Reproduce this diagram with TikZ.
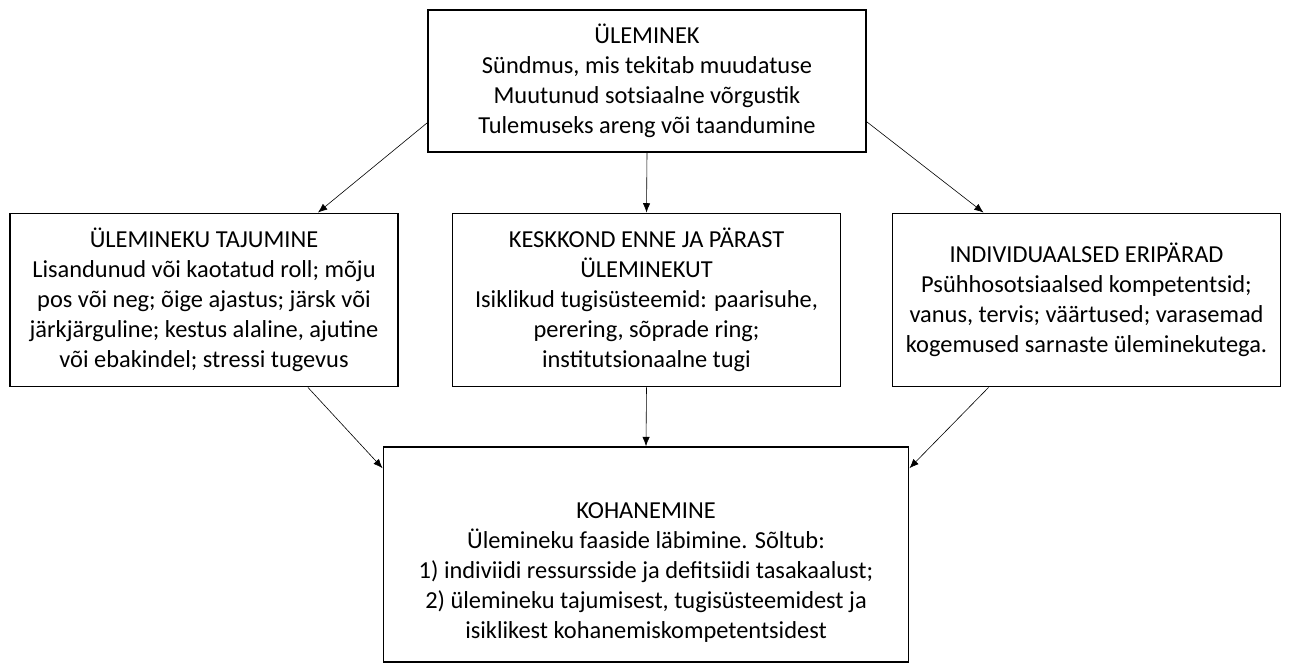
\documentclass[tikz,border=0pt]{standalone}
\usepackage{fontspec}
\setmainfont{Carlito}
\usetikzlibrary{arrows.meta,positioning}

\begin{document}
\begin{tikzpicture}[x=0.75pt,y=-0.75pt,
  box/.style={draw,rectangle,line width=1.4pt,align=center,inner sep=0pt,
    font=\fontsize{18.3}{22.5}\selectfont},
  midbox/.style={box,minimum width=291pt,minimum height=129.75pt},
  conn/.style={-{Latex[length=7pt,width=5.5pt]},line width=0.45pt}]
%
\useasboundingbox (0,0) rectangle (1290,664);
%
\node[box,minimum width=328.5pt,minimum height=106.5pt] (trans) at (647,81)
  {ÜLEMINEK\\Sündmus, mis tekitab muudatuse\\Muutunud sotsiaalne võrgustik\\Tulemuseks areng või taandumine};
%
\node[midbox] (perc) at (204,300)
  {ÜLEMINEKU TAJUMINE\\Lisandunud või kaotatud roll; mõju\\pos või neg; õige ajastus; järsk või\\järkjärguline; kestus alaline, ajutine\\või ebakindel; stressi tugevus};
\node[midbox] (env) at (646.5,300)
  {KESKKOND ENNE JA PÄRAST\\ÜLEMINEKUT\\Isiklikud tugisüsteemid: paarisuhe,\\perering, sõprade ring;\\institutsionaalne tugi};
\node[midbox] (indiv) at (1086.5,300)
  {INDIVIDUAALSED ERIPÄRAD\\Psühhosotsiaalsed kompetentsid;\\vanus, tervis; väärtused; varasemad\\kogemused sarnaste üleminekutega.};
%
\node[box,minimum width=393.75pt,minimum height=161pt] (adapt) at (646,554.5)
  {\strut\\KOHANEMINE\\Ülemineku faaside läbimine. Sõltub:\\1) indiviidi ressursside ja defitsiidi tasakaalust;\\2) ülemineku tajumisest, tugisüsteemidest ja\\isiklikest kohanemiskompetentsidest};
%
\draw[conn] ([yshift=22.5pt]trans.south west) -- ([xshift=-60.75pt]perc.north east);
\draw[conn] (trans.south) -- (env.north);
\draw[conn] ([yshift=23.25pt]trans.south east) -- ([xshift=69pt]indiv.north west);
%
\draw[conn] ([xshift=-68.25pt]perc.south east) -- ([yshift=-16.5pt]adapt.north west);
\draw[conn] (env.south) -- (adapt.north);
\draw[conn] ([xshift=72.75pt]indiv.south west) -- ([yshift=-16.5pt]adapt.north east);
%
\end{tikzpicture}
\end{document}
